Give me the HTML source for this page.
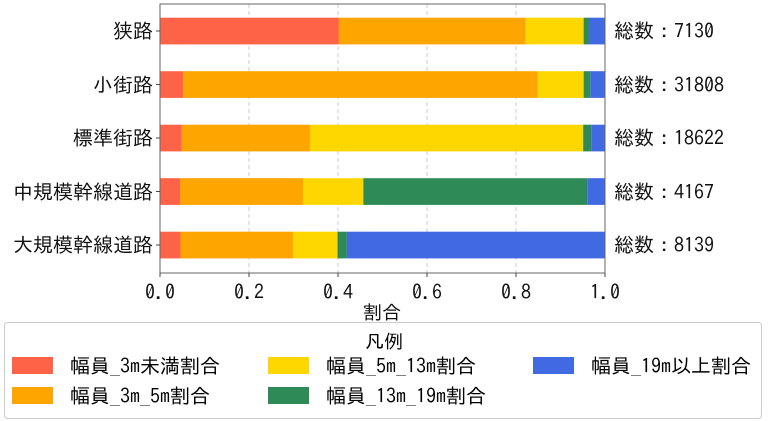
<!DOCTYPE html>
<html><head><meta charset="utf-8"><style>
body{margin:0;width:768px;height:421px;background:#fff;overflow:hidden;font-family:"IPAGothic","Noto Sans CJK JP",sans-serif;color:#111}
</style></head><body>
<svg width="768" height="421" style="position:absolute;left:0;top:0" font-family="IPAGothic, Noto Sans CJK JP, sans-serif">
<g stroke="#ccc" stroke-dasharray="4,3" stroke-width="1">
<line x1="249" y1="4" x2="249" y2="273"/><line x1="338" y1="4" x2="338" y2="273"/><line x1="427" y1="4" x2="427" y2="273"/><line x1="516" y1="4" x2="516" y2="273"/>
</g>
<g id="bars"></g>
<rect x="160" y="4" width="445" height="269" fill="none" stroke="#666" stroke-width="1"/>
<g stroke="#444"><line x1="160" y1="273" x2="160" y2="277"/><line x1="249" y1="273" x2="249" y2="277"/><line x1="338" y1="273" x2="338" y2="277"/><line x1="427" y1="273" x2="427" y2="277"/><line x1="516" y1="273" x2="516" y2="277"/><line x1="605" y1="273" x2="605" y2="277"/>
<line x1="156" y1="31" x2="160" y2="31"/><line x1="156" y1="84.5" x2="160" y2="84.5"/><line x1="156" y1="138" x2="160" y2="138"/><line x1="156" y1="191.5" x2="160" y2="191.5"/><line x1="156" y1="245" x2="160" y2="245"/></g>
<g font-size="20" text-anchor="middle" fill="#111">
<text x="160" y="299">0.0</text><text x="249" y="299">0.2</text><text x="338" y="299">0.4</text><text x="427" y="299">0.6</text><text x="516" y="299">0.8</text><text x="605" y="299">1.0</text>
<text x="382" y="319" font-size="19">割合</text></g>
<g font-size="20" text-anchor="end" fill="#111">
<text x="153" y="38">狭路</text><text x="153" y="92">小街路</text><text x="153" y="145">標準街路</text><text x="153" y="199">中規模幹線道路</text><text x="153" y="252">大規模幹線道路</text></g>
<g font-size="20" fill="#111">
<text x="614" y="38">総数：7130</text><text x="614" y="92">総数：31808</text><text x="614" y="145">総数：18622</text><text x="614" y="199">総数：4167</text><text x="614" y="252">総数：8139</text></g>
<rect x="4.5" y="322.5" width="757" height="96" rx="3" fill="#fff" stroke="#ccc"/>
<text x="384" y="348" font-size="19" text-anchor="middle">凡例</text>
<rect x="12" y="357" width="41" height="17" fill="#ff6347"/>
<rect x="12" y="387" width="41" height="17" fill="#ffa500"/>
<rect x="268" y="357" width="41" height="17" fill="#ffd700"/>
<rect x="268" y="387" width="41" height="17" fill="#2e8b57"/>
<rect x="533" y="357" width="41" height="17" fill="#4169e1"/>
<g font-size="20"><text x="70" y="373">幅員_3m未満割合</text><text x="70" y="403">幅員_3m_5m割合</text>
<text x="326" y="373">幅員_5m_13m割合</text><text x="326" y="403">幅員_13m_19m割合</text>
<text x="591" y="373">幅員_19m以上割合</text></g>
</svg>
<script>
var d=[[0.402,0.822,0.952,0.964],[0.052,0.849,0.952,0.967],[0.049,0.337,0.951,0.969],[0.045,0.322,0.457,0.960],[0.046,0.299,0.399,0.420]];
var c=["#ff6347","#ffa500","#ffd700","#2e8b57","#4169e1"];var s="";
d.forEach(function(r,i){var y=17.7+i*53.5;var b=[0].concat(r,[1]);for(var k=0;k<5;k++){var x0=160+b[k]*445,x1=160+b[k+1]*445;s+='<rect x="'+x0+'" y="'+y+'" width="'+(x1-x0)+'" height="26.7" fill="'+c[k]+'"/>';}});
document.getElementById("bars").innerHTML=s;
</script>
</body></html>
